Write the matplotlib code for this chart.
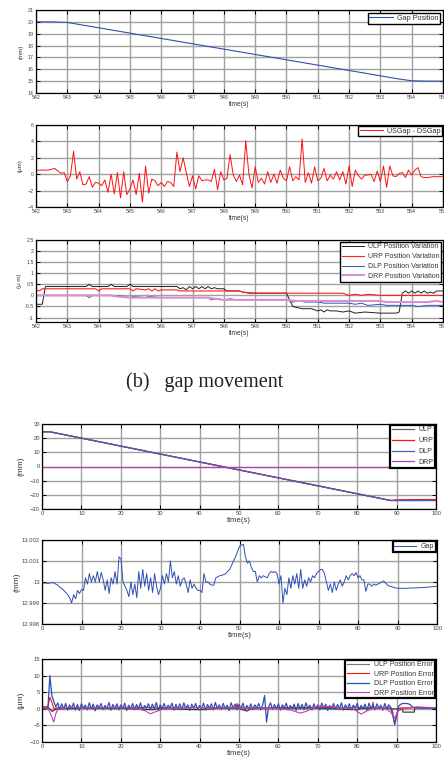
import numpy as np
import matplotlib
matplotlib.use("Agg")
import matplotlib.pyplot as plt

plt.rcParams['font.family'] = ['Liberation Sans', 'DejaVu Sans']

# ---- data (upper group, gap movement) ----
gap_t = [542, 542.5, 543, 544, 545, 546, 547, 548, 549, 550, 551, 552, 553, 553.5, 554, 554.5, 555]
gap_v = [20, 20, 19.95, 19.5, 19.05, 18.6, 18.15, 17.7, 17.25, 16.8, 16.35, 15.9, 15.45, 15.22, 15.03, 15.0, 15.0]

# USGap - DSGap, sampled every 0.1 s from 542 to 555
usds_v = [0.5, 0.5, 0.5, 0.5, 0.5, 0.6, 0.7, 0.4, 0.1, 0.2,
          -0.9, -0.2, 2.8, -0.6, 0.3, -1.3, -1.2, -0.3, -1.6, -1.0,
          -1.1, -1.4, -0.7, -2.2, 0.0, -2.4, 0.2, -2.9, 0.3, -2.5,
          -1.8, -0.7, -2.5, 0.1, -3.4, 1.0, -2.3, -0.6, -0.8, -1.4,
          -1.0, -1.5, -0.9, -1.0, -1.5, 2.7, 0.3, 2.0, 0.2, -1.5,
          -0.2, -1.8, -0.2, -0.8, -0.7, -0.7, -0.9, 0.6, -1.9, 0.3,
          -0.7, -0.5, 2.4, -0.1, -0.9, -0.1, -1.3, 4.1, 0.0, -1.7,
          0.9, -1.0, -0.5, -1.2, 0.3, -1.0, 0.0, -1.1, 0.5, -0.5,
          -0.8, 0.9, -0.8, -0.3, -0.7, 4.3, -1.0, 0.2, -1.1, 0.9,
          -0.8, -0.5, 0.7, -0.8, -0.1, -0.6, 0.3, -0.7, 0.3, -1.2,
          1.0, -1.5, 0.5, -0.2, -0.6, -0.1, -0.1, 0.0, -0.9, 0.4,
          -0.9, 1.0, -1.6, 1.0, -0.2, -0.3, 0.1, 0.2, -0.4, 0.5,
          -0.1, 0.5, 0.8, -0.3, -0.4, -0.4, -0.35, -0.3, -0.3, -0.3,
          -0.3]

ulpv_t = [542, 542.2, 542.3, 543.6, 543.7, 543.8, 544.3, 544.4, 544.5, 544.9, 545.0, 545.1,
          546.5, 546.6, 546.7, 546.8, 546.9, 547.0, 547.1, 547.2, 547.3, 547.4, 547.5, 547.6,
          547.7, 547.8, 548.0, 548.1, 548.5, 548.6, 548.8, 549.0, 550.0, 550.2, 550.5, 550.8,
          551.0, 551.1, 551.2, 551.3, 551.4, 551.6, 551.8, 552.0, 552.2, 552.5, 553.0, 553.5,
          553.6, 553.7, 553.8, 553.9, 554.0, 554.1, 554.2, 554.3, 554.4, 554.5, 554.6, 554.7,
          554.8, 555]
ulpv_v = [-0.4, -0.4, 0.4, 0.4, 0.5, 0.4, 0.4, 0.5, 0.4, 0.4, 0.5, 0.4,
          0.4, 0.3, 0.35, 0.25, 0.4, 0.3, 0.4, 0.3, 0.4, 0.3, 0.4, 0.3,
          0.35, 0.3, 0.3, 0.2, 0.2, 0.15, 0.1, 0.1, 0.1, -0.5, -0.6, -0.6,
          -0.7, -0.65, -0.75, -0.65, -0.7, -0.7, -0.75, -0.7, -0.8, -0.75, -0.8, -0.8,
          -0.75, 0.1, 0.2, 0.1, 0.2, 0.1, 0.2, 0.1, 0.2, 0.1, 0.15, 0.1,
          0.2, 0.2]
urpv_t = [542, 542.1, 542.2, 542.3, 543.9, 544.0, 544.1, 545.0, 545.1, 545.2,
          545.5, 545.6, 545.7, 545.8, 545.9, 546.0, 546.5, 546.6, 547.0, 547.1,
          548.0, 548.5, 548.6, 549.0, 551.5, 551.8, 552.0, 552.2, 552.4, 552.6,
          553.0, 554.0, 554.5, 555]
urpv_v = [0.25, 0.2, 0.3, 0.3, 0.3, 0.2, 0.3, 0.3, 0.2, 0.3,
          0.25, 0.3, 0.2, 0.3, 0.2, 0.25, 0.25, 0.2, 0.2, 0.2,
          0.2, 0.2, 0.15, 0.1, 0.1, 0.1, 0.0, 0.05, 0.0, 0.05,
          0.0, 0.0, 0.0, 0.0]
dlpv_t = [542, 543.6, 543.7, 543.8, 544.4, 544.5, 544.6, 545.0, 545.1, 545.5,
          545.6, 546.0, 547.5, 547.6, 547.8, 548.0, 548.2, 548.4, 548.6, 550.0,
          550.2, 550.4, 550.6, 551.0, 551.2, 552.0, 552.2, 552.4, 552.6, 553.0,
          553.2, 553.6, 554.0, 554.2, 554.5, 555]
dlpv_v = [0.0, 0.0, -0.1, 0.0, 0.0, -0.05, 0.0, -0.1, -0.05, -0.1,
          -0.05, -0.1, -0.1, -0.2, -0.15, -0.2, -0.15, -0.2, -0.2, -0.2,
          -0.3, -0.25, -0.3, -0.3, -0.35, -0.35, -0.4, -0.35, -0.45, -0.4,
          -0.45, -0.45, -0.45, -0.5, -0.45, -0.45]
drpv_t = [542, 544.4, 544.6, 545.0, 547.5, 547.7, 548.0, 550.0, 550.3, 552.0, 553.0, 553.2, 554.5, 554.8, 555]
drpv_v = [0.0, 0.0, -0.05, -0.1, -0.1, -0.15, -0.2, -0.2, -0.25, -0.25, -0.25, -0.3, -0.3, -0.25, -0.3]

# ---- data (lower group) ----
pos_t = [0, 2, 88.5, 90, 100]
pos_ulp = [24.5, 24.5, -24.0, -24.0, -24.0]
pos_urp = [24.5, 24.5, -24.0, -23.5, -23.3]
pos_dlp = [24.5, 24.5, -24.0, -24.0, -24.0]
pos_drp = [0, 0, 0, 0, 0]

# gap deviation from 13 mm in um, every 0.5 s from 0 to 100
gap2_dev = [-0.05, -0.05, -0.05, -0.07, -0.05, -0.03, -0.05, -0.1, -0.15, -0.25,
            -0.3, -0.4, -0.5, -0.6, -0.75, -1.0, -0.6, -0.8, -0.4, -0.55,
            -0.35, -0.4, 0.2, -0.1, 0.4, 0.0, 0.3, 0.0, 0.5, 0.0,
            0.45, 0.1, -0.4, 0.1, -0.55, 0.2, -0.1, 0.5, -0.1, 1.2,
            1.1, 0.0, -0.2, -0.4, -0.7, 0.0, -0.6, -0.1, -0.75, 0.5,
            -0.3, 0.6, -0.2, 0.4, -0.4, 0.2, -0.5, 0.4, -0.2, -0.6,
            -0.3, 0.3, -0.1, 0.4, 0.0, 1.0, 0.2, 0.5, -0.1, 0.3,
            -0.2, 0.1, 0.2, -0.1, -0.5, 0.1, -0.3, -0.1, -0.3, -0.4,
            -0.4, -0.5, 0.4, 0.0, 0.0, -0.1, -0.15, -0.15, 0.2, 0.25,
            0.3, 0.32, 0.35, 0.4, 0.5, 0.6, 0.8, 1.0, 1.2, 1.45,
            1.7, 1.75, 1.8, 1.2, 0.9, 1.0, 0.7, 0.5, 0.5, 0.0,
            0.3, 0.2, 0.3, 0.25, 0.2, 0.4, 0.5, 0.45, 0.5, 0.4,
            -0.1, 0.3, -1.0, -0.3, -0.6, 0.2, -0.3, 0.3, -0.1, 0.4,
            -0.3, 0.6, -0.3, 0.1, -0.2, 0.2, 0.0, 0.3, 0.2, 0.4,
            0.5, 0.6, 0.6, 0.4, 0.0, -0.4, -0.1, -0.5, 0.0, -0.4,
            -0.1, 0.1, -0.2, 0.0, 0.3, 0.1, 0.3, 0.4, 0.3, 0.45,
            0.2, 0.3, 0.1, 0.1, -0.45, -0.1, -0.1, -0.2, -0.1, -0.15,
            -0.1, -0.05, 0.0, 0.05, -0.05, -0.15, -0.2, -0.22, -0.25, -0.28,
            -0.3, -0.3, -0.3, -0.3, -0.3, -0.3, -0.29, -0.29, -0.28, -0.28,
            -0.28, -0.27, -0.27, -0.26, -0.25, -0.25, -0.24, -0.23, -0.22, -0.21,
            -0.2]

# DLP position error, every 0.5 s from 0 to 100
err_dlp = [0.0, 0.0, 0.0, 0.2, 10.0, 4.0, 2.2, 0.5, 1.8, -0.2,
           1.5, 0.0, 1.6, -0.4, 1.2, 0.1, 1.7, -0.3, 1.3, -0.5,
           1.5, 0.2, 1.1, -0.3, 1.8, 0.0, 1.4, -0.6, 1.2, 0.3,
           1.6, -0.2, 1.0, 0.1, 1.9, -0.4, 1.3, 0.0, 1.5, -0.3,
           1.2, 0.2, 1.7, -0.5, 1.1, 0.0, 1.6, -0.2, 1.3, 0.1,
           1.8, -0.4, 1.0, 0.2, 1.5, -0.3, 1.4, 0.0, 1.9, -0.5,
           1.2, 0.1, 1.6, -0.2, 1.1, 0.3, 1.7, -0.4, 1.3, 0.0,
           1.5, -0.3, 1.8, 0.1, 1.2, -0.5, 1.4, 0.2, 1.6, -0.2,
           1.0, 0.0, 1.7, -0.4, 1.3, 0.2, 1.5, -0.3, 1.9, 0.1,
           1.2, -0.2, 1.6, 0.0, 1.1, -0.5, 1.8, 0.2, 1.4, -0.3,
           1.3, 0.1, 1.7, -0.4, 1.0, 0.0, 1.5, -0.2, 1.2, 0.3,
           1.6, -0.3, 1.1, 4.0, -4.0, 0.5, 1.8, -0.2, 1.3, 0.0,
           1.5, -0.4, 1.2, 0.2, 1.7, -0.3, 1.0, 0.1, 1.4, -0.5,
           1.6, 0.0, 1.3, -0.2, 1.8, 0.2, 1.1, -0.4, 1.5, 0.1,
           1.2, -0.3, 1.7, 0.0, 1.4, -0.5, 1.0, 0.2, 1.6, -0.2,
           1.3, 0.1, 1.8, -0.4, 1.2, 0.0, 1.5, -0.3, 1.1, 0.2,
           1.6, -0.2, 1.0, 0.1, 1.4, -0.5, 1.7, 0.0, 1.3, -0.3,
           1.5, 0.2, 1.1, -0.4, 1.6, 0.0, 1.2, 0.5, -1.0, -4.8,
           -2.0, 0.8, 1.3, 1.6, 1.6, 1.6, 1.5, 1.2, 0.5, 0.4,
           0.3, 0.3, 0.2, 0.2, 0.2, 0.2, 0.2, 0.2, 0.2, 0.2,
           0.2]
err_ulp_t = [0, 1.5, 2.0, 2.6, 3.2, 4.0, 10, 20, 28, 30, 40, 45, 50, 52, 53, 60, 70, 80, 81, 88, 89, 91.5, 91.6, 94.5, 94.6, 100]
err_ulp_v = [0.5, 0.5, 0.0, -0.8, -0.3, 0.0, 0.1, 0.2, -0.3, 0.1, -0.3, 0.2, 0.1, -0.7, 0.0, 0.2, 0.2, -0.3, 0.1, 0.2, 0.0, 0.0, -1.0, -1.0, 0.3, 0.3]
err_urp_t = [0, 1.5, 2.0, 2.5, 3.0, 4.0, 10, 20, 30, 40, 49.3, 49.5, 49.7, 60, 70, 80, 83.8, 84.0, 84.2, 88.5, 89.0, 89.5, 90.0, 90.5, 92, 100]
err_urp_v = [0.5, 0.6, 3.5, 2.0, 0.0, 0.3, 0.3, 0.4, 0.3, 0.3, 0.3, 1.6, 0.3, 0.3, 0.4, 0.3, 0.3, 2.0, 0.3, 0.2, -2.0, -4.5, -2.5, 0.2, 0.3, 0.3]
err_drp_t = [0, 1.5, 2.0, 2.5, 3.0, 3.5, 4.0, 5, 7, 10, 15, 20, 24, 26, 27.5, 29, 31, 35, 40, 45,
             50, 55, 60, 63, 65.5, 67, 69, 70, 75, 79, 81, 82.5, 84, 87, 88.5, 89.5, 90.5, 92, 95, 100]
err_drp_v = [0.0, 0.0, -1.0, -2.5, -4.0, -1.5, -0.2, 0.0, 0.5, 0.2, 0.3, 0.5, 0.2, -0.5, -1.5, -0.8, 0.0, 0.3, 0.4, 0.2,
             0.3, 0.2, 0.0, -0.3, -1.3, -0.8, 0.3, 0.9, 0.5, 0.0, -1.6, -0.6, 0.1, 0.2, -1.0, -2.8, -0.5, 0.0, 0.6, 0.3]

W, H = 444, 763
fig = plt.figure(figsize=(W / 100, H / 100), dpi=100)


def box(l, t, r, b):
    return [l / W, 1 - b / H, (r - l) / W, (b - t) / H]


def style(ax, xlim, xt, ylim, yt, fs, lfs):
    ax.set_xlim(xlim)
    ax.set_ylim(ylim)
    ax.set_xticks(xt)
    ax.set_yticks(yt)
    ax.set_axisbelow(True)
    ax.grid(True, color='#a0a0a0', lw=1.0)
    ax.tick_params(direction='in', top=True, right=True, labelsize=fs,
                   length=3, width=0.7, pad=1.5, colors='black', labelcolor='#444444')
    for s in ax.spines.values():
        s.set_linewidth(0.9)
    ax.set_xlabel('time(s)', fontsize=lfs, labelpad=1, color='#333333')


def leg(ax, fs, lw, pad, sp):
    lg = ax.legend(loc='upper right', fontsize=fs, fancybox=False, edgecolor='black',
                   framealpha=1, borderpad=0.25, labelspacing=sp, handlelength=3.2,
                   handletextpad=0.6, borderaxespad=pad)
    lg.get_frame().set_linewidth(lw)
    for t in lg.get_texts():
        t.set_color('#333333')
    return lg


up_ticks = list(range(542, 556))

# panel 1
ax1 = fig.add_axes(box(36, 10, 443, 93))
ax1.plot(gap_t, gap_v, color='#3050a8', lw=0.8, label='Gap Position')
style(ax1, (542, 555), up_ticks, (14, 21), range(14, 22), 3.8, 4.8)
ax1.set_ylabel('(mm)', fontsize=4.5, labelpad=3, color='#333333')
leg(ax1, 5.2, 1.0, 0.4, 0.05)

# panel 2
ax2 = fig.add_axes(box(36, 125, 443, 207))
ax2.plot(np.linspace(542, 555, len(usds_v)), usds_v, color='#ff1010', lw=0.7, label='USGap - DSGap')
style(ax2, (542, 555), up_ticks, (-4, 6), range(-4, 7, 2), 3.8, 4.8)
ax2.set_ylabel('(μm)', fontsize=4.5, labelpad=4, color='#333333')
leg(ax2, 5.2, 1.0, 0.1, 0.05)

# panel 3
ax3 = fig.add_axes(box(36, 240, 443, 322))
ax3.plot(ulpv_t, ulpv_v, color='#202020', lw=0.7, label='ULP Position Variation')
ax3.plot(urpv_t, urpv_v, color='#ff2020', lw=0.8, label='URP Position Variation')
ax3.plot(dlpv_t, dlpv_v, color='#3050b8', lw=0.7, label='DLP Position Variation')
ax3.plot(drpv_t, drpv_v, color='#d890d0', lw=1.5, label='DRP Position Variation')
style(ax3, (542, 555), up_ticks, (-1.2, 2.5), [-1, -0.5, 0, 0.5, 1, 1.5, 2, 2.5], 3.8, 4.8)
ax3.set_yticklabels(['-1', '-0.5', '0', '0.5', '1', '1.5', '2', '2.5'])
ax3.set_ylabel('(μ m)', fontsize=4.5, labelpad=2, color='#333333')
leg(ax3, 5.0, 1.0, 0.25, 0.4)

fig.text(205 / W, 1 - 382 / H, '(b)   gap movement', ha='center', va='center',
         fontsize=14.5, family=['Liberation Serif', 'DejaVu Serif'], color='#222222')

low_ticks = list(range(0, 101, 10))

# panel 4
ax4 = fig.add_axes(box(42, 424, 436, 509))
ax4.plot(pos_t, pos_ulp, color='#666666', lw=0.9, label='ULP')
ax4.plot(pos_t, pos_urp, color='#ff1010', lw=0.9, label='URP')
ax4.plot(pos_t, pos_dlp, color='#4060c8', lw=0.9, label='DLP')
ax4.plot(pos_t, pos_drp, color='#b040b0', lw=0.9, label='DRP')
style(ax4, (0, 100), low_ticks, (-30, 30), range(-30, 31, 10), 4.2, 5.6)
ax4.set_ylabel('(mm)', fontsize=6, labelpad=4, color='#333333')
leg(ax4, 5.0, 1.6, 0.1, 0.55)

# panel 5
ax5 = fig.add_axes(box(42, 540, 437, 624))
ax5.plot(np.linspace(0, 100, len(gap2_dev)), 13 + np.array(gap2_dev) * 1e-3,
         color='#3050b0', lw=0.7, label='Gap')
style(ax5, (0, 100), low_ticks, (12.998, 13.002),
      [12.998, 12.999, 13.0, 13.001, 13.002], 4.2, 5.6)
ax5.set_yticklabels(['12.998', '12.999', '13', '13.001', '13.002'])
ax5.set_ylabel('(mm)', fontsize=6, labelpad=1, color='#333333')
leg(ax5, 5.0, 1.6, 0.2, 0.05)

# panel 6
ax6 = fig.add_axes(box(42, 659, 436, 742))
ax6.plot(err_ulp_t, err_ulp_v, color='#303030', lw=0.8, label='ULP Position Error')
ax6.plot(err_urp_t, err_urp_v, color='#ff1010', lw=0.8, label='URP Position Error')
ax6.plot(np.linspace(0, 100, len(err_dlp)), err_dlp, color='#2850b8', lw=0.9, label='DLP Position Error')
ax6.plot(err_drp_t, err_drp_v, color='#c040b0', lw=0.8, label='DRP Position Error')
style(ax6, (0, 100), low_ticks, (-10, 15), range(-10, 16, 5), 4.2, 5.6)
ax6.set_ylabel('(μm)', fontsize=6, labelpad=4, color='#333333')
lg6 = leg(ax6, 5.0, 1.6, 0.1, 0.35)
lg6.get_lines()[0].set_color('#777777')

fig.savefig('out.png', dpi=100)
